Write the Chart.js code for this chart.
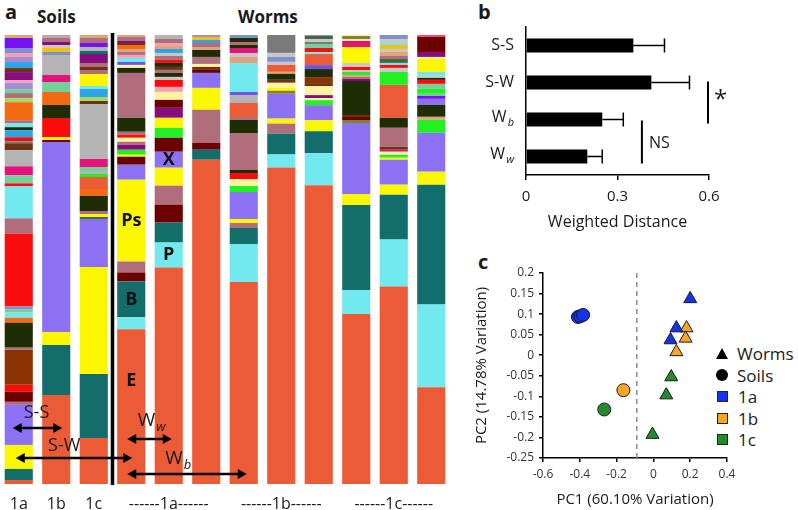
<!DOCTYPE html>
<html>
<head>
<meta charset="utf-8">
<script src="https://cdn.jsdelivr.net/npm/chart.js@4.4.1/dist/chart.umd.min.js"></script>
<style>
  body { margin: 0; background: #fff; width: 798px; height: 510px; overflow: hidden; position: relative;
         font-family: "Open Sans", sans-serif; color: #1a1a1a; }
  canvas { position: absolute; }
  .t { position: absolute; font-weight: 700; white-space: nowrap; line-height: 1; }
  #lg { position: absolute; left: 716px; top: 343px; font-size: 17px; line-height: 21.5px; }
  #lg div { display: flex; align-items: center; }
  .mk { display: inline-block; margin-right: 9px; box-sizing: border-box; }
  .tri { width: 0; height: 0; border-left: 6px solid transparent; border-right: 6px solid transparent; border-bottom: 11px solid #000; }
  .dot { width: 12px; height: 12px; border-radius: 50%; background: #000; }
  .sq { width: 11px; height: 11px; border: 1px solid #222; margin-left: 1px; margin-right: 10px; }
</style>
</head>
<body>
<div class="t" style="left:5px;top:2px;font-size:20px">a</div>
<div class="t" style="left:37px;top:8px;font-size:17px">Soils</div>
<div class="t" style="left:238px;top:8px;font-size:17px">Worms</div>
<div class="t" style="left:478px;top:2px;font-size:20px">b</div>
<div class="t" style="left:478px;top:252px;font-size:20px">c</div>
<div id="lg">
  <div><span class="mk tri"></span>Worms</div>
  <div><span class="mk dot"></span>Soils</div>
  <div><span class="mk sq" style="background:#1432f0"></span>1a</div>
  <div><span class="mk sq" style="background:#f6a623"></span>1b</div>
  <div><span class="mk sq" style="background:#258a2a"></span>1c</div>
</div>
<canvas id="ca" width="450" height="510" style="left:0;top:0;width:450px;height:510px"></canvas>
<canvas id="cb" width="338" height="240" style="left:460px;top:0;width:338px;height:240px"></canvas>
<canvas id="cc" width="338" height="265" style="left:460px;top:245px;width:338px;height:265px"></canvas>
<script>
// ---------- panel a: taxon composition, each sample listed top -> bottom ----------
const tickLabelsA = ['1a', '1b', '1c', '', '------1a------', '', '', '------1b------', '', '', '------1c------', ''];

const soil1a = [['tan',3],['violet',10],['steel',5],['ltpink',4],['lilac',5],['sky',6],['brown',4],['purple',8],['ltpink',3],['lilac',6],['mint',4],['mauve',5],['ygreen',4],['orange',18],['mauve',3],['P',4],['dkgreen',3],['sky',7],['red',4],['dkgray',2],['brown',7],['gray',16],['magenta',9],['mint',8],['red',3],['P',32],['mauve',15],['red',73],['steel',3],['mint',3],['P',5],['orange',5],['dkgreen',25],['mauve',2],['sienna',35],['red',7],['dkred',10],['mauve',3],['X',40],['Ps',24],['B',11],['E',4]];
const soil1b = [['gray2',3],['mauve',4],['purple',3],['ltgray',3],['gold',4],['steel',3],['gray',20],['magenta',7],['mint',10],['orange',13],['dkgreen',13],['red',19],['Ps',3],['dkred',2],['X',190],['Ps',13],['B',50],['E',89]];
const soil1c = [['tan',3],['mauve',5],['violet',4],['gray',4],['B',3],['purple',9],['mauve',4],['brown',3],['mauve',4],['Ps',12],['P',3],['sky',8],['ygreen',4],['brown',3],['gray',55],['magenta',8],['mint',4],['gray',3],['green',3],['coral',12],['orange',7],['dkgreen',15],['mauve',3],['Ps',3],['dkolive',2],['X',48],['Ps',107],['B',64],['E',46]];
const worm1a1 = [['tan',2],['mauve',4],['purple',2],['brown',2],['orange',4],['tan',3],['mauve',3],['ltpink',3],['P',4],['violetblue',3],['ltyellow',3],['dkgreen',5],['mauve',45],['dkgreen',14],['mauve',3],['red',3],['ltyellow',4],['mauve',3],['purple',5],['green',5],['Ps',2],['dkred',8],['X',15],['Ps',82],['mauve',11],['dkred',9],['B',36],['P',12],['E',155]];
const worm1a2 = [['gray',4],['mauve',4],['ltpink',3],['tan',3],['sky',4],['ltgray',3],['mauve',4],['red',3],['dkgreen',4],['brown',3],['mauve',3],['dkgreen',4],['ltgray',3],['red',7],['ltpink',5],['ltyellow',8],['dkred',8],['purple',10],['Ps',10],['green',10],['dkred',14],['X',16],['Ps',18],['mauve',19],['dkred',18],['B',20],['P',25],['E',217]];
const worm1a3 = [['lilac',2],['gold',3],['sky',3],['mauve',4],['tan',3],['dkgreen',7],['mauve',7],['ltyellow',3],['brown',3],['dkred',3],['X',15],['Ps',22],['mauve',33],['dkred',7],['B',10],['E',325]];
const worm1b1 = [['steel',3],['dkgreen',4],['mauve',3],['dkgreen',3],['magenta',5],['ltgray',4],['tan',6],['P',29],['violetblue',3],['gray',8],['coral',14],['mauve',3],['dkgreen',13],['mauve',37],['dkgreen',3],['red',6],['ltyellow',7],['green',6],['X',27],['Ps',4],['mauve',5],['B',16],['P',38],['E',202]];
const worm1b2 = [['dkgray',18],['ltgray',4],['steel',5],['ltgray',3],['coral',7],['tan',2],['dkgreen',6],['brown',3],['ltyellow',5],['Ps',3],['olive',3],['X',25],['Ps',5],['mauve',10],['B',21],['P',13],['E',318]];
const worm1b3 = [['lilac',1],['dkolive',3],['ltgray',3],['dkgray',2],['mint',4],['red',4],['P',2],['coral',11],['violetblue',4],['dkgreen',8],['sienna',6],['brown',3],['ltyellow',9],['purple',3],['ltyellow',2],['green',5],['X',15],['Ps',11],['B',22],['P',32],['E',298]];
const worm1c1 = [['ltyellow',1],['olive',3],['ltyellow',2],['magenta',6],['Ps',16],['ltgray',4],['red',3],['ltgray',2],['green',3],['tan',2],['mauve',2],['purple',2],['dkgreen',34],['brown',2],['dkred',3],['olive',3],['X',71],['Ps',11],['B',85],['P',24],['E',170]];
const worm1c2 = [['steel',4],['ltgray',4],['P',2],['gold',4],['ltgray',3],['tan',4],['mauve',3],['dkolive',4],['P',2],['red',3],['ltgray',4],['green',13],['coral',33],['dkgreen',10],['mauve',19],['brown',3],['magenta',2],['ltyellow',3],['green',3],['Ps',2],['X',25],['Ps',10],['B',45],['P',47],['E',198]];
const worm1c3 = [['pinkred',2],['dkred',15],['purple',5],['ltyellow',2],['Ps',13],['P',4],['ltgray',2],['dkgreen',2],['red',4],['mint',5],['green',5],['mint',2],['violet',3],['X',6],['dkgreen',12],['tan',3],['green',13],['X',39],['Ps',13],['B',120],['P',83],['E',97]];

// tags printed on bars: sample index, taxon, where in the segment (0 = top)
const segmentTags = [
  { sample: 3, taxon: 'Ps', text: 'Ps', at: 0.5 },
  { sample: 3, taxon: 'B', text: 'B', at: 0.5 },
  { sample: 3, taxon: 'E', text: 'E', at: 0.33 },
  { sample: 4, taxon: 'X', text: 'X', at: 0.5 },
  { sample: 4, taxon: 'P', text: 'P', at: 0.5 },
];

// ---------- panel b ----------
const distCats = ['S-S', 'S-W', 'Wb', 'Ww'];
const distMeans = [0.352, 0.411, 0.25, 0.201];
const distErrs = [0.102, 0.125, 0.069, 0.049];

// ---------- panel c: PCoA ----------
const pcSoil1a = [[-0.41, 0.093], [-0.397, 0.095], [-0.382, 0.098]];
const pcSoil1b = [[-0.163, -0.085]];
const pcSoil1c = [[-0.267, -0.132]];
const pcWorm1a = [[0.2, 0.137], [0.125, 0.066], [0.093, 0.037]];
const pcWorm1b = [[0.18, 0.066], [0.175, 0.041], [0.125, 0.008]];
const pcWorm1c = [[0.097, -0.053], [0.07, -0.097], [-0.005, -0.193]];
const pc1Cut = -0.09;

const taxonColors = {
  E: '#ea5b36', coral: '#ea5b36', P: '#72e9ef', B: '#136e6b', Ps: '#fbf700', X: '#8c72f3',
  mauve: '#b06d7c', dkred: '#6c0000', dkgreen: '#1f2d05', gray: '#b4b4b4', gray2: '#b7a7b4',
  red: '#fb0c0c', magenta: '#e4127a', orange: '#f26b12', purple: '#850d7e', green: '#22f022',
  ltyellow: '#fff3a0', brown: '#6a3412', sienna: '#8a3403', dkgray: '#7a7a7a', sky: '#2ea3e6',
  violet: '#7512f2', ltpink: '#f2a0b4', mint: '#74d09a', steel: '#7f90cf', olive: '#8b7d2e',
  tan: '#e0a47a', lilac: '#a68ad6', ltgray: '#c8c8c8', gold: '#f2c20a', violetblue: '#6b55e8',
  dkolive: '#3f6a3f', ygreen: '#a8d860', pinkred: '#ff4a66'
};
const siteColors = { '1a': '#1432f0', '1b': '#f6a623', '1c': '#258a2a' };
const FONT = '"Open Sans", sans-serif';
const INK = '#1a1a1a';

// ---------- build panel a ----------
const samples = [soil1a, soil1b, soil1c, worm1a1, worm1a2, worm1a3, worm1b1, worm1b2, worm1b3, worm1c1, worm1c2, worm1c3];
const bottomUp = samples.map(s => {
  const total = s.reduce((a, seg) => a + seg[1], 0);
  let acc = 0;
  return s.slice().reverse().map(([taxon, v]) => {
    const pct = v / total * 100;
    const seg = { taxon, v: pct, start: acc, end: acc + pct };
    acc += pct;
    return seg;
  });
});
const nSlots = Math.max(...bottomUp.map(b => b.length));
const datasetsA = [];
for (let k = 0; k < nSlots; k++) {
  datasetsA.push({
    data: bottomUp.map(b => (b[k] ? b[k].v : null)),
    backgroundColor: bottomUp.map(b => (b[k] ? taxonColors[b[k].taxon] : 'rgba(0,0,0,0)')),
    borderWidth: 0,
    barPercentage: 0.75,
    categoryPercentage: 1,
  });
}

function doubleArrow(ctx, x1, x2, y) {
  const head = 9, half = 5;
  ctx.lineWidth = 2.5;
  ctx.beginPath();
  ctx.moveTo(x1 + 4, y);
  ctx.lineTo(x2 - 4, y);
  ctx.stroke();
  ctx.beginPath();
  ctx.moveTo(x1, y); ctx.lineTo(x1 + head, y - half); ctx.lineTo(x1 + head, y + half); ctx.closePath();
  ctx.moveTo(x2, y); ctx.lineTo(x2 - head, y - half); ctx.lineTo(x2 - head, y + half); ctx.closePath();
  ctx.fill();
}

function subLabel(ctx, main, sub, x, y, size, align) {
  ctx.font = size + 'px ' + FONT;
  const wm = ctx.measureText(main).width;
  ctx.font = 'italic ' + Math.round(size * 0.7) + 'px ' + FONT;
  const ws = ctx.measureText(sub).width;
  const total = wm + ws + 1;
  let x0 = x - total / 2;
  if (align === 'right') x0 = x - total;
  ctx.textAlign = 'left';
  ctx.textBaseline = 'middle';
  ctx.font = size + 'px ' + FONT;
  ctx.fillText(main, x0, y);
  ctx.font = 'italic ' + Math.round(size * 0.7) + 'px ' + FONT;
  ctx.fillText(sub, x0 + wm + 1, y + size * 0.35);
}

const panelAMarks = {
  id: 'panelAMarks',
  afterDatasetsDraw(chart) {
    const { ctx, chartArea, scales: { x, y } } = chart;
    const cx = i => x.getPixelForValue(i);
    ctx.save();
    ctx.fillStyle = '#000';
    const xd = (cx(2) + cx(3)) / 2;
    ctx.fillRect(xd - 1.75, chartArea.top - 2, 3.5, chartArea.bottom - chartArea.top + 3);

    ctx.fillStyle = '#111';
    ctx.font = 'bold 18px ' + FONT;
    ctx.textAlign = 'center';
    ctx.textBaseline = 'middle';
    segmentTags.forEach(t => {
      const segs = bottomUp[t.sample].filter(s => s.taxon === t.taxon);
      const seg = segs.reduce((a, b) => (b.v > a.v ? b : a));
      const yTop = y.getPixelForValue(seg.end), yBot = y.getPixelForValue(seg.start);
      ctx.fillText(t.text, cx(t.sample), yTop + (yBot - yTop) * t.at);
    });

    ctx.fillStyle = '#000';
    ctx.strokeStyle = '#000';
    const b = chartArea.bottom;
    doubleArrow(ctx, cx(0) - 6, cx(1) + 6, b - 56);
    doubleArrow(ctx, cx(0) - 3, cx(3) + 1, b - 26);
    doubleArrow(ctx, cx(3) - 4, cx(4) + 3, b - 45);
    doubleArrow(ctx, cx(3) - 4, cx(6) + 3, b - 10);

    ctx.fillStyle = INK;
    ctx.font = '18px ' + FONT;
    ctx.textAlign = 'center';
    ctx.textBaseline = 'middle';
    ctx.fillText('S-S', (cx(0) + cx(1)) / 2 - 1, b - 71);
    ctx.fillText('S-W', cx(1) + 8, b - 38);
    subLabel(ctx, 'W', 'w', cx(4) - 17, b - 63, 19, 'center');
    subLabel(ctx, 'W', 'b', cx(5) - 28, b - 25, 19, 'center');
    ctx.restore();
  }
};

new Chart(document.getElementById('ca'), {
  type: 'bar',
  data: { labels: tickLabelsA, datasets: datasetsA },
  options: {
    responsive: false, animation: false, events: [],
    layout: { padding: { top: 35, left: 0, right: 0, bottom: 0 } },
    plugins: { legend: { display: false }, tooltip: { enabled: false } },
    scales: {
      x: {
        stacked: true,
        grid: { display: false }, border: { display: false },
        ticks: { autoSkip: false, maxRotation: 0, minRotation: 0, padding: 3, color: INK, font: { family: FONT, size: 16 } },
        afterFit: s => { s.height = 26; }
      },
      y: { stacked: true, display: false, min: 0, max: 100 }
    }
  },
  plugins: [panelAMarks]
});

// ---------- panel b ----------
const panelBMarks = {
  id: 'panelBMarks',
  afterDatasetsDraw(chart) {
    const { ctx, chartArea, scales: { x, y } } = chart;
    ctx.save();
    ctx.strokeStyle = '#000';
    ctx.fillStyle = '#000';
    ctx.lineWidth = 1.5;
    distMeans.forEach((m, i) => {
      const yy = y.getPixelForValue(i);
      const x0 = x.getPixelForValue(m), x1 = x.getPixelForValue(m + distErrs[i]);
      ctx.beginPath();
      ctx.moveTo(x0, yy); ctx.lineTo(x1, yy);
      ctx.moveTo(x1, yy - 7); ctx.lineTo(x1, yy + 7);
      ctx.stroke();
    });
    // category labels (with subscripts)
    ctx.fillStyle = INK;
    distCats.forEach((c, i) => {
      const yy = y.getPixelForValue(i);
      const xr = chartArea.left - 12;
      if (c[0] === 'W') {
        subLabel(ctx, 'W', c.slice(1), xr, yy - 2, 16, 'right');
      } else {
        ctx.font = '16px ' + FONT;
        ctx.textAlign = 'right';
        ctx.textBaseline = 'middle';
        ctx.fillText(c, xr, yy);
      }
    });
    // significance brackets
    ctx.lineWidth = 2;
    const xs = x.getPixelForValue(0.6) - 1;
    ctx.beginPath();
    ctx.moveTo(xs, y.getPixelForValue(1) - 1);
    ctx.lineTo(xs, y.getPixelForValue(2) + 4);
    const xn = x.getPixelForValue(0.38);
    ctx.moveTo(xn, y.getPixelForValue(2) + 1);
    ctx.lineTo(xn, y.getPixelForValue(3) + 7);
    ctx.stroke();
    ctx.textAlign = 'left';
    ctx.textBaseline = 'middle';
    ctx.font = '24px ' + FONT;
    ctx.fillText('*', xs + 6, (y.getPixelForValue(1) + y.getPixelForValue(2)) / 2 - 1);
    ctx.font = '16px ' + FONT;
    ctx.fillText('NS', xn + 7, (y.getPixelForValue(2) + y.getPixelForValue(3)) / 2 + 5);
    ctx.restore();
  }
};

new Chart(document.getElementById('cb'), {
  type: 'bar',
  data: {
    labels: distCats,
    datasets: [{ data: distMeans, backgroundColor: '#000', borderWidth: 0, barPercentage: 0.38, categoryPercentage: 1 }]
  },
  options: {
    indexAxis: 'y',
    responsive: false, animation: false, events: [],
    layout: { padding: { top: 27, left: 0, right: 89, bottom: 0 } },
    plugins: { legend: { display: false }, tooltip: { enabled: false } },
    scales: {
      x: {
        min: 0, max: 0.6,
        ticks: { stepSize: 0.3, padding: 8, color: INK, font: { family: FONT, size: 15 } },
        grid: { drawOnChartArea: false, drawTicks: true, tickLength: 5, color: '#000', lineWidth: 1.5 },
        border: { color: '#000', width: 1.5 },
        title: { display: true, text: 'Weighted Distance', color: INK, font: { family: FONT, size: 16 }, padding: { top: 0, bottom: 8 } },
        afterFit: s => { s.height = 65; }
      },
      y: {
        grid: { display: false },
        border: { color: '#000', width: 1.5 },
        ticks: { display: false },
        afterFit: s => { s.width = 66; }
      }
    }
  },
  plugins: [panelBMarks]
});

// ---------- panel c ----------
const toXY = arr => arr.map(([x, y]) => ({ x, y }));
const shortNum = v => String(Math.round(v * 100) / 100);
function pcSet(points, site, shape) {
  return {
    data: toXY(points),
    pointStyle: shape,
    pointRadius: shape === 'triangle' ? 7.5 : 6.5,
    backgroundColor: siteColors[site],
    borderColor: '#1a1a1a',
    borderWidth: 1,
  };
}

new Chart(document.getElementById('cc'), {
  type: 'scatter',
  data: {
    datasets: [
      pcSet(pcWorm1a, '1a', 'triangle'),
      pcSet(pcWorm1b, '1b', 'triangle'),
      pcSet(pcWorm1c, '1c', 'triangle'),
      pcSet(pcSoil1a, '1a', 'circle'),
      pcSet(pcSoil1b, '1b', 'circle'),
      pcSet(pcSoil1c, '1c', 'circle'),
      {
        type: 'line',
        data: [{ x: pc1Cut, y: 0.2 }, { x: pc1Cut, y: -0.25 }],
        borderColor: '#8c8c8c', borderWidth: 1.5, borderDash: [5, 4], pointRadius: 0, fill: false
      }
    ]
  },
  options: {
    responsive: false, animation: false, events: [],
    layout: { padding: { top: 28, left: 0, right: 71, bottom: 0 } },
    plugins: { legend: { display: false }, tooltip: { enabled: false } },
    scales: {
      x: {
        type: 'linear', min: -0.6, max: 0.4,
        ticks: { stepSize: 0.2, padding: 5, color: '#333', font: { family: FONT, size: 12 }, callback: shortNum },
        grid: { drawOnChartArea: false, drawTicks: true, tickLength: 4, color: '#000', lineWidth: 1.5 },
        border: { color: '#000', width: 1.5 },
        title: { display: true, text: 'PC1 (60.10% Variation)', color: INK, font: { family: FONT, size: 15 }, padding: { top: 0, bottom: 1 } },
        afterFit: s => { s.height = 52; }
      },
      y: {
        min: -0.25, max: 0.2,
        ticks: { stepSize: 0.05, padding: 5, color: '#333', font: { family: FONT, size: 12 }, callback: shortNum },
        grid: { drawOnChartArea: false, drawTicks: true, tickLength: 4, color: '#000', lineWidth: 1.5 },
        border: { color: '#000', width: 1.5 },
        title: { display: true, text: 'PC2 (14.78% Variation)', color: INK, font: { family: FONT, size: 15 }, padding: { top: 13, bottom: 0 } },
        afterFit: s => { s.width = 83; }
      }
    }
  }
});
</script>
</body>
</html>
